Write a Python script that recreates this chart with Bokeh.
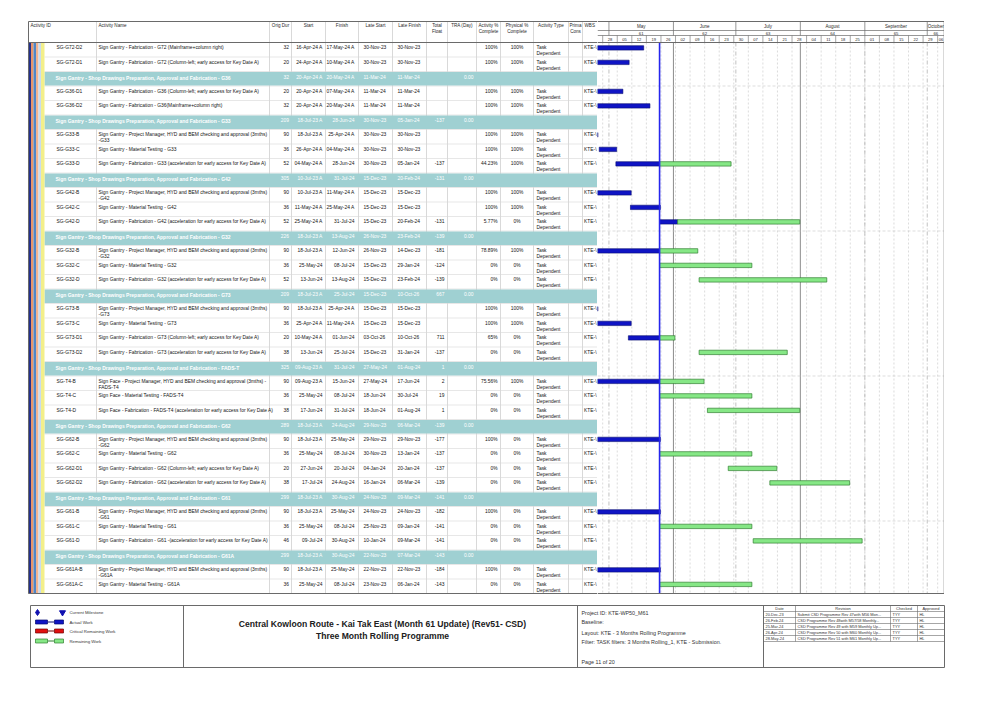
import datetime as dt
import pandas as pd
from bokeh.plotting import figure
from bokeh.layouts import row, column
from bokeh.models import Range1d, ColumnDataSource
from bokeh.core.properties import value
from bokeh.embed import file_html
from bokeh.resources import INLINE

FONT = "Liberation Sans"

# ------------------------------------------------------------------ data
row_kind = ["a", "a",
            "g", "a", "a",
            "g", "a", "a", "a",
            "g", "a", "a", "a",
            "g", "a", "a", "a",
            "g", "a", "a", "a", "a",
            "g", "a", "a", "a",
            "g", "a", "a", "a", "a",
            "g", "a", "a", "a",
            "g", "a", "a"]

activity_ids = ["SG-G72-D2", "SG-G72-D1",
                "", "SG-G36-D1", "SG-G36-D2",
                "", "SG-G33-B", "SG-G33-C", "SG-G33-D",
                "", "SG-G42-B", "SG-G42-C", "SG-G42-D",
                "", "SG-G32-B", "SG-G32-C", "SG-G32-D",
                "", "SG-G73-B", "SG-G73-C", "SG-G73-D1", "SG-G73-D2",
                "", "SG-T4-B", "SG-T4-C", "SG-T4-D",
                "", "SG-G62-B", "SG-G62-C", "SG-G62-D1", "SG-G62-D2",
                "", "SG-G61-B", "SG-G61-C", "SG-G61-D",
                "", "SG-G61A-B", "SG-G61A-C"]

activity_names = [
    "Sign Gantry - Fabrication - G72  (Mainframe+column right)",
    "Sign Gantry - Fabrication - G72  (Column-left; early access for Key Date A)",
    "Sign Gantry - Shop Drawings Preparation, Approval and Fabrication - G36",
    "Sign Gantry - Fabrication - G36   (Column-left; early access for Key Date A)",
    "Sign Gantry - Fabrication - G36(Mainframe+column right)",
    "Sign Gantry - Shop Drawings Preparation, Approval and Fabrication - G33",
    "Sign Gantry -  Project Manager, HYD and BEM checking and approval (3mths)\n-G33",
    "Sign Gantry - Material Testing - G33",
    "Sign Gantry - Fabrication - G33  (acceleration for early access for Key Date A)",
    "Sign Gantry - Shop Drawings Preparation, Approval and Fabrication - G42",
    "Sign Gantry -  Project Manager, HYD and BEM checking and approval (3mths)\n-G42",
    "Sign Gantry - Material Testing - G42",
    "Sign Gantry - Fabrication - G42  (acceleration for early access for Key Date A)",
    "Sign Gantry - Shop Drawings Preparation, Approval and Fabrication - G32",
    "Sign Gantry -  Project Manager, HYD and BEM checking and approval (3mths)\n-G32",
    "Sign Gantry - Material Testing - G32",
    "Sign Gantry - Fabrication - G32 (acceleration for early access for Key Date A)",
    "Sign Gantry - Shop Drawings Preparation, Approval and Fabrication - G73",
    "Sign Gantry -  Project Manager, HYD and BEM checking and approval (3mths)\n-G73",
    "Sign Gantry - Material Testing - G73",
    "Sign Gantry - Fabrication - G73   (Column-left; early access for Key Date A)",
    "Sign Gantry - Fabrication - G73 (acceleration for early access for Key Date A)",
    "Sign Gantry - Shop Drawings Preparation, Approval and Fabrication - FADS-T",
    "Sign Face -  Project Manager, HYD and BEM checking and approval (3mths) -\nFADS-T4",
    "Sign Face - Material Testing - FADS-T4",
    "Sign Face - Fabrication - FADS-T4 (acceleration for early access for Key Date A)",
    "Sign Gantry - Shop Drawings Preparation, Approval and Fabrication - G62",
    "Sign Gantry -  Project Manager, HYD and BEM checking and approval (3mths)\n-G62",
    "Sign Gantry - Material Testing - G62",
    "Sign Gantry - Fabrication - G62 (Column-left; early access for Key Date A)",
    "Sign Gantry - Fabrication - G62 (acceleration for early access for Key Date A)",
    "Sign Gantry - Shop Drawings Preparation, Approval and Fabrication - G61",
    "Sign Gantry -  Project Manager, HYD and BEM checking and approval (3mths)\n-G61",
    "Sign Gantry - Material Testing - G61",
    "Sign Gantry - Fabrication - G61  -(acceleration for early access for Key Date A)",
    "Sign Gantry - Shop Drawings Preparation, Approval and Fabrication - G61A",
    "Sign Gantry -  Project Manager, HYD and BEM checking and approval (3mths)\n-G61A",
    "Sign Gantry - Material Testing - G61A",
]

orig_dur = [32, 20,
            32, 20, 32,
            209, 90, 36, 52,
            305, 90, 36, 52,
            226, 90, 36, 52,
            209, 90, 36, 20, 38,
            325, 90, 36, 38,
            289, 90, 36, 20, 38,
            299, 90, 36, 46,
            299, 90, 36]

start_dates = ["16-Apr-24 A", "24-Apr-24 A",
               "20-Apr-24 A", "20-Apr-24 A", "20-Apr-24 A",
               "18-Jul-23 A", "18-Jul-23 A", "26-Apr-24 A", "04-May-24 A",
               "10-Jul-23 A", "10-Jul-23 A", "11-May-24 A", "25-May-24 A",
               "18-Jul-23 A", "18-Jul-23 A", "25-May-24", "13-Jun-24",
               "18-Jul-23 A", "18-Jul-23 A", "25-Apr-24 A", "10-May-24 A", "13-Jun-24",
               "09-Aug-23 A", "09-Aug-23 A", "25-May-24", "17-Jun-24",
               "18-Jul-23 A", "18-Jul-23 A", "25-May-24", "27-Jun-24", "17-Jul-24",
               "18-Jul-23 A", "18-Jul-23 A", "25-May-24", "09-Jul-24",
               "18-Jul-23 A", "18-Jul-23 A", "25-May-24"]

finish_dates = ["17-May-24 A", "10-May-24 A",
                "20-May-24 A", "07-May-24 A", "20-May-24 A",
                "28-Jun-24", "25-Apr-24 A", "04-May-24 A", "28-Jun-24",
                "31-Jul-24", "11-May-24 A", "25-May-24 A", "31-Jul-24",
                "13-Aug-24", "12-Jun-24", "08-Jul-24", "13-Aug-24",
                "25-Jul-24", "25-Apr-24 A", "11-May-24 A", "01-Jun-24", "25-Jul-24",
                "31-Jul-24", "15-Jun-24", "08-Jul-24", "31-Jul-24",
                "24-Aug-24", "25-May-24", "08-Jul-24", "20-Jul-24", "24-Aug-24",
                "30-Aug-24", "25-May-24", "08-Jul-24", "30-Aug-24",
                "30-Aug-24", "25-May-24", "08-Jul-24"]

late_start = ["30-Nov-23", "30-Nov-23",
              "11-Mar-24", "11-Mar-24", "11-Mar-24",
              "30-Nov-23", "30-Nov-23", "30-Nov-23", "30-Nov-23",
              "15-Dec-23", "15-Dec-23", "15-Dec-23", "15-Dec-23",
              "26-Nov-23", "26-Nov-23", "15-Dec-23", "15-Dec-23",
              "15-Dec-23", "15-Dec-23", "15-Dec-23", "03-Oct-26", "15-Dec-23",
              "27-May-24", "27-May-24", "18-Jun-24", "18-Jun-24",
              "29-Nov-23", "29-Nov-23", "30-Nov-23", "04-Jan-24", "16-Jan-24",
              "24-Nov-23", "24-Nov-23", "25-Nov-23", "10-Jan-24",
              "22-Nov-23", "22-Nov-23", "23-Nov-23"]

late_finish = ["30-Nov-23", "30-Nov-23",
               "11-Mar-24", "11-Mar-24", "11-Mar-24",
               "05-Jan-24", "30-Nov-23", "30-Nov-23", "05-Jan-24",
               "20-Feb-24", "15-Dec-23", "15-Dec-23", "20-Feb-24",
               "23-Feb-24", "14-Dec-23", "29-Jan-24", "23-Feb-24",
               "10-Oct-26", "15-Dec-23", "15-Dec-23", "10-Oct-26", "31-Jan-24",
               "01-Aug-24", "17-Jun-24", "30-Jul-24", "01-Aug-24",
               "06-Mar-24", "29-Nov-23", "13-Jan-24", "20-Jan-24", "06-Mar-24",
               "09-Mar-24", "24-Nov-23", "09-Jan-24", "09-Mar-24",
               "07-Mar-24", "22-Nov-23", "06-Jan-24"]

total_float = ["", "",
               "", "", "",
               "-137", "", "", "-137",
               "-131", "", "", "-131",
               "-139", "-181", "-124", "-139",
               "667", "", "", "711", "-137",
               "1", "2", "19", "1",
               "-139", "-177", "-137", "-137", "-139",
               "-141", "-182", "-141", "-141",
               "-143", "-184", "-143"]

act_pct = ["100%", "100%",
           "", "100%", "100%",
           "", "100%", "100%", "44.23%",
           "", "100%", "100%", "5.77%",
           "", "78.89%", "0%", "0%",
           "", "100%", "100%", "65%", "0%",
           "", "75.56%", "0%", "0%",
           "", "100%", "0%", "0%", "0%",
           "", "100%", "0%", "0%",
           "", "100%", "0%"]

phys_pct = ["100%", "100%",
            "", "100%", "100%",
            "", "100%", "100%", "100%",
            "", "100%", "100%", "0%",
            "", "100%", "0%", "0%",
            "", "100%", "100%", "0%", "0%",
            "", "100%", "0%", "0%",
            "", "0%", "0%", "0%", "0%",
            "", "0%", "0%", "0%",
            "", "0%", "0%"]

group_tra = "0.00"
activity_type = "Task\nDependent"
wbs_code = "KTE-\\"

data_date = "2024-05-25 08:00"
progress_to = {"SG-G42-D": "03-Jun-24"}

month_names = ["May", "June", "July", "August", "September", "October"]
month_numbers = ["61", "62", "63", "64", "65", "66"]
month_starts = ["2024-05-01", "2024-06-01", "2024-07-01", "2024-08-01", "2024-09-01", "2024-10-01"]
month_solid = [False, True, False, True, False, False]
week_labels = ["28", "05", "12", "19", "26", "02", "09", "16", "23", "30", "07", "14",
               "21", "28", "04", "11", "18", "25", "01", "08", "15", "22", "29", "06"]
first_week = "2024-04-28"

header_cols = [("Activity ID", 30, "left"), ("Activity Name", 98, "left"),
               ("Orig Dur", 280, "center"), ("Start", 308, "center"),
               ("Finish", 341.5, "center"), ("Late Start", 375, "center"),
               ("Late Finish", 409, "center"), ("Total\nFloat", 436.5, "center"),
               ("TRA (Day)", 461.5, "center"), ("Activity %\nComplete", 488, "center"),
               ("Physical %\nComplete", 516.5, "center"), ("Activity Type", 550.5, "center"),
               ("Prima\nCons", 575, "center"), ("WBS", 584, "left")]

legend_items = ["Current Milestone", "Actual Work", "Critical Remaining Work", "Remaining Work"]
title_lines = ["Central Kowloon Route - Kai Tak East (Month 61 Update) (Rev51- CSD)",
               "Three Month Rolling Programme"]
project_lines = ["Project ID: KTE-WP50_M61", "Baseline:", "Layout: KTE - 3 Months Rolling Programme",
                 "Filter: TASK filters: 3 Months Rolling_1, KTE - Submission.", "Page 11 of 20"]
rev_header = ["Date", "Revision", "Checked", "Approved"]
rev_dates = ["20-Dec-23", "26-Feb-24", "25-Mar-24", "26-Apr-24", "28-May-24"]
rev_text = ["Submit CSD Programme Rev 47with M56 Mon...",
            "CSD Programme Rev 48with M57/58 Monthly...",
            "CSD Programme Rev 49 with M59 Monthly Up...",
            "CSD Programme Rev 50 with M60 Monthly Up...",
            "CSD Programme Rev 51 with M61 Monthly Up..."]
rev_checked = ["TYY", "TYY", "TYY", "TYY", "TYY"]
rev_approved = ["HL", "HL", "HL", "HL", "HL"]

# ------------------------------------------------------------------ layout constants
TOP, HDR, ROW_H = 21, 42, 14.5
LEFT, TBL_R, GANTT_R = 28, 597, 944
col_lines = [96, 269, 291, 325, 358, 392, 426, 447, 476, 500, 533, 568, 582]
N = len(row_kind)
BOTTOM = HDR + N * ROW_H
row_top = [HDR + i * ROW_H for i in range(N)]

TEXT_C = "#141414"
GRID_C = "#c8c8c8"
FRAME_C = "#6a6a6a"
BAND_C = "#9fd0d2"


def new_fig(w, h, xr, yr, **kw):
    p = figure(width=w, height=h, x_range=xr, y_range=yr, output_backend="svg",
               toolbar_location=None, min_border=0, **kw)
    p.axis.visible = False
    p.grid.visible = False
    p.outline_line_color = None
    p.background_fill_color = "white"
    p.border_fill_color = "white"
    return p


def put_text(p, xs, ys, texts, size=4.9, color=TEXT_C, align="left", bold=False,
             baseline="top", lh=1.15):
    src = ColumnDataSource(dict(x=list(xs), y=list(ys), t=list(texts)))
    p.text(x="x", y="y", text="t", source=src, text_font=value(FONT),
           text_font_size=f"{size}px", text_color=color, text_align=align,
           text_baseline=baseline, text_font_style="bold" if bold else "normal",
           text_line_height=lh)


# ------------------------------------------------------------------ table figure
tbl = new_fig(TBL_R, 600, Range1d(0, TBL_R), Range1d(600, 0))

tbl.segment(x0=col_lines, x1=col_lines, y0=[TOP] * len(col_lines), y1=[BOTTOM] * len(col_lines),
            line_color=GRID_C, line_width=0.7)
rb = [HDR + (i + 1) * ROW_H for i in range(N - 1)]
tbl.segment(x0=[44] * len(rb), x1=[TBL_R] * len(rb), y0=rb, y1=rb, line_color="#d6d6d6", line_width=0.6)

g_idx = [i for i, k in enumerate(row_kind) if k == "g"]
a_idx = [i for i, k in enumerate(row_kind) if k == "a"]
tbl.quad(left=[44] * len(g_idx), right=[TBL_R] * len(g_idx),
         top=[row_top[i] + 0.6 for i in g_idx], bottom=[row_top[i] + ROW_H - 0.6 for i in g_idx],
         fill_color=BAND_C, line_color=None)

stripes = [("#23318c", 28, 30.5), ("#e8956a", 30.5, 33), ("#4f86c6", 33, 35.5),
           ("#f2b38f", 35.5, 38), ("#c9dcef", 38, 40.5), ("#f3ef8a", 40.5, 44)]
tbl.quad(left=[s[1] for s in stripes], right=[s[2] for s in stripes],
         top=[HDR] * len(stripes), bottom=[BOTTOM] * len(stripes),
         fill_color=[s[0] for s in stripes], line_color=None)

tbl.segment(x0=[LEFT, LEFT, LEFT, LEFT, TBL_R], x1=[TBL_R, TBL_R, TBL_R, LEFT, TBL_R],
            y0=[TOP, HDR, BOTTOM, TOP, TOP], y1=[TOP, HDR, BOTTOM, BOTTOM, BOTTOM],
            line_color=FRAME_C, line_width=1)

for name, x, al in header_cols:
    put_text(tbl, [x], [TOP + 1.8], [name], size=4.6, align=al, color="#2a2a2a")

ty = [row_top[i] + 2.9 for i in a_idx]
put_text(tbl, [56] * len(a_idx), ty, [activity_ids[i] for i in a_idx])
put_text(tbl, [98] * len(a_idx), ty, [activity_names[i] for i in a_idx])
put_text(tbl, [288.5] * len(a_idx), ty, [str(orig_dur[i]) for i in a_idx], align="right")
put_text(tbl, [322] * len(a_idx), ty, [start_dates[i] for i in a_idx], align="right")
put_text(tbl, [354] * len(a_idx), ty, [finish_dates[i] for i in a_idx], align="right")
put_text(tbl, [363] * len(a_idx), ty, [late_start[i] for i in a_idx])
put_text(tbl, [397] * len(a_idx), ty, [late_finish[i] for i in a_idx])
put_text(tbl, [444] * len(a_idx), ty, [total_float[i] for i in a_idx], align="right")
put_text(tbl, [497] * len(a_idx), ty, [act_pct[i] for i in a_idx], align="right")
put_text(tbl, [516.5] * len(a_idx), ty, [phys_pct[i] for i in a_idx], align="center")
put_text(tbl, [536] * len(a_idx), ty, [activity_type] * len(a_idx))
put_text(tbl, [583.5] * len(a_idx), ty, [wbs_code] * len(a_idx))

gy = [row_top[i] + 3.2 for i in g_idx]
W = "#ffffff"
put_text(tbl, [55] * len(g_idx), gy, [activity_names[i] for i in g_idx], color=W, bold=True, size=5)
put_text(tbl, [288.5] * len(g_idx), gy, [str(orig_dur[i]) for i in g_idx], color=W, align="right")
put_text(tbl, [322] * len(g_idx), gy, [start_dates[i] for i in g_idx], color=W, align="right")
put_text(tbl, [354] * len(g_idx), gy, [finish_dates[i] for i in g_idx], color=W, align="right")
put_text(tbl, [363] * len(g_idx), gy, [late_start[i] for i in g_idx], color=W)
put_text(tbl, [397] * len(g_idx), gy, [late_finish[i] for i in g_idx], color=W)
put_text(tbl, [444] * len(g_idx), gy, [total_float[i] for i in g_idx], color=W, align="right")
put_text(tbl, [473] * len(g_idx), gy, [group_tra] * len(g_idx), color=W, align="right")

# ------------------------------------------------------------------ gantt figure
t0 = pd.Timestamp("2024-04-25 12:00")
t1 = pd.Timestamp("2024-10-09 07:00")
gan = new_fig(GANTT_R - TBL_R, 600, Range1d(t0, t1), Range1d(600, 0), x_axis_type="datetime")

m_starts = [pd.Timestamp(m) for m in month_starts]
w_starts = list(pd.date_range(first_week, periods=len(week_labels), freq="7D"))

gan.segment(x0=w_starts, x1=w_starts, y0=[HDR] * len(w_starts), y1=[BOTTOM] * len(w_starts),
            line_color="#c4c4c4", line_width=0.6, line_dash="2 2")
ms_dash = [m for m, s in zip(m_starts, month_solid) if not s]
ms_sol = [m for m, s in zip(m_starts, month_solid) if s]
gan.segment(x0=ms_dash, x1=ms_dash, y0=[HDR] * len(ms_dash), y1=[BOTTOM] * len(ms_dash),
            line_color="#a8a8a8", line_width=0.7, line_dash="4 2 1 2")
gan.segment(x0=ms_sol, x1=ms_sol, y0=[HDR] * len(ms_sol), y1=[BOTTOM] * len(ms_sol),
            line_color="#8c8c8c", line_width=1)
sight = [HDR + k * ROW_H for k in (3, 13, 23, 33)]
gan.segment(x0=[t0] * 4, x1=[t1] * 4, y0=sight, y1=sight, line_color="#c8c8c8",
            line_width=0.6, line_dash="3 2")

gan.segment(x0=[t0] * 3, x1=[t1] * 3, y0=[30, 35, HDR], y1=[30, 35, HDR], line_color=FRAME_C, line_width=0.7)
gan.segment(x0=m_starts, x1=m_starts, y0=[TOP] * len(m_starts), y1=[35] * len(m_starts),
            line_color=FRAME_C, line_width=0.7)
gan.segment(x0=w_starts, x1=w_starts, y0=[35] * len(w_starts), y1=[HDR] * len(w_starts),
            line_color=FRAME_C, line_width=0.6)
m_ends = m_starts[1:] + [pd.Timestamp("2024-11-01")]
m_mid = [max(a, t0) + (min(b, t1) - max(a, t0)) / 2 for a, b in zip(m_starts, m_ends)]
put_text(gan, m_mid, [25.7] * len(m_mid), month_names, size=4.5, align="center", baseline="middle", color="#2a2a2a")
put_text(gan, m_mid, [32.6] * len(m_mid), month_numbers, size=4.3, align="center", baseline="middle", color="#2a2a2a")
w_mid = [min(w + pd.Timedelta(days=3.5), w + (t1 - w) / 2) for w in w_starts]
put_text(gan, w_mid, [38.6] * len(w_mid), week_labels, size=4.1, align="center", baseline="middle", color="#2a2a2a")


def pdate(s):
    return pd.Timestamp(dt.datetime.strptime(s.replace(" A", "").strip(), "%d-%b-%y"))


dd = pd.Timestamp(data_date)
act = dict(l=[], r=[], y=[])
rem = dict(l=[], r=[], y=[])
for i in a_idx:
    s = pdate(start_dates[i]) + pd.Timedelta(hours=8)
    f = pdate(finish_dates[i]) + pd.Timedelta(hours=17)
    yc = row_top[i] + 5.4
    started = start_dates[i].endswith("A")
    done = finish_dates[i].endswith("A") or act_pct[i] == "100%"
    if done:
        act["l"].append(s); act["r"].append(f); act["y"].append(yc)
    elif started:
        p = pdate(progress_to[activity_ids[i]]) if activity_ids[i] in progress_to else dd
        act["l"].append(s); act["r"].append(p); act["y"].append(yc)
        rem["l"].append(p); rem["r"].append(f); rem["y"].append(yc)
    else:
        rem["l"].append(s); rem["r"].append(f); rem["y"].append(yc)

gan.hbar(y=act["y"], left=act["l"], right=act["r"], height=4.4,
         fill_color="#0f14c4", line_color="#050a70", line_width=0.6)
gan.hbar(y=rem["y"], left=rem["l"], right=rem["r"], height=4.4,
         fill_color="#86e786", line_color="#2f7f2f", line_width=0.7)

gan.segment(x0=[dd], x1=[dd], y0=[HDR], y1=[BOTTOM], line_color="#2626ee", line_width=1.6)

gan.segment(x0=[t0, t0, t0], x1=[t1, t1, t1], y0=[TOP, HDR, BOTTOM], y1=[TOP, HDR, BOTTOM],
            line_color=FRAME_C, line_width=1)
gan.segment(x0=[t1], x1=[t1], y0=[TOP], y1=[BOTTOM], line_color=FRAME_C, line_width=1.5)

# ------------------------------------------------------------------ footer figure
ft = new_fig(950, 90, Range1d(0, 950), Range1d(690, 600))
FT, FB = 605, 667
ft.segment(x0=[30, 30, 30, 944, 183, 577, 763], x1=[944, 944, 30, 944, 183, 577, 763],
           y0=[FT, FB, FT, FT, FT, FT, FT], y1=[FT, FB, FB, FB, FB, FB, FB],
           line_color=FRAME_C, line_width=1)

leg_y = [612, 621.5, 630.5, 640.5]
ft.scatter(x=[37], y=[leg_y[0]], marker="diamond", size=6, fill_color="#1010b0", line_color="#1010b0")
ft.scatter(x=[62], y=[leg_y[0]], marker="inverted_triangle", size=6, fill_color="#1010b0", line_color="#1010b0")
bar_cols = [("#0f14c4", "#050a70"), ("#e01010", "#700000"), ("#86e786", "#2f7f2f")]
for (fc, lc), y in zip(bar_cols, leg_y[1:]):
    ft.segment(x0=[47], x1=[54], y0=[y], y1=[y], line_color=lc, line_width=1)
    ft.quad(left=[35, 54], right=[47, 63], top=[y - 2, y - 2], bottom=[y + 2, y + 2],
            fill_color=fc, line_color=lc, line_width=0.7)
put_text(ft, [69] * 4, leg_y, legend_items, size=4.3, baseline="middle", color="#333333")

put_text(ft, [382, 382], [623, 635], title_lines, size=8.6, bold=True, align="center",
         baseline="middle", color="#202020")

put_text(ft, [581] * 5, [612.5, 621.5, 632, 641, 661.5], project_lines, size=5.4, baseline="middle",
         color="#333333")

rev_cols = [763, 795, 890, 917, 944]
RH = 6
ys = [FT + RH * (k + 1) for k in range(6)]
ft.segment(x0=[763] * 6, x1=[944] * 6, y0=ys, y1=ys, line_color=FRAME_C, line_width=0.6)
ft.segment(x0=rev_cols[1:4], x1=rev_cols[1:4], y0=[FT] * 3, y1=[ys[-1]] * 3,
           line_color=FRAME_C, line_width=0.6)
mids = [(a + b) / 2 for a, b in zip(rev_cols[:-1], rev_cols[1:])]
put_text(ft, mids, [FT + RH / 2] * 4, rev_header, size=4, align="center", baseline="middle",
         color="#333333")
ry = [FT + RH * (k + 1.5) for k in range(len(rev_dates))]
put_text(ft, [765] * 5, ry, rev_dates, size=3.9, baseline="middle", color="#333333")
put_text(ft, [797] * 5, ry, rev_text, size=3.9, baseline="middle", color="#333333")
put_text(ft, [892] * 5, ry, rev_checked, size=3.9, baseline="middle", color="#333333")
put_text(ft, [919] * 5, ry, rev_approved, size=3.9, baseline="middle", color="#333333")

layout = column(row(tbl, gan, spacing=0), ft, spacing=0)
open("out.html", "w").write(file_html(layout, INLINE, title="Three Month Rolling Programme"))
